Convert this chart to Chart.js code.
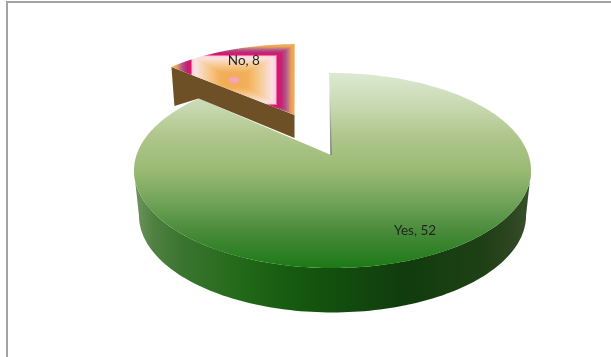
<!DOCTYPE html>
<html>
<head>
<meta charset="utf-8">
<style>
  html, body { margin: 0; padding: 0; background: #fff; overflow: hidden; }
  #frame { position: absolute; left: 6px; top: 1px; width: 605px; height: 356px; border-top: 2px solid #a3a3a3; border-left: 2px solid #a3a3a3; box-sizing: border-box; }
  #pie { position: absolute; left: 0; top: 0; }
</style>
<script src="https://cdn.jsdelivr.net/npm/chart.js@4"></script>
</head>
<body>
<div id="frame"></div>
<canvas id="pie" width="611" height="357"></canvas>
<script>
const categories = ['Yes', 'No'];
const answers = [52, 8];

// Rectangular path gradient for the pulled-out slice, rendered into a pattern.
const ringStops = [
  [0.00, [246, 160, 192]], [0.06, [246, 165, 185]], [0.09, [243, 172, 88]],
  [0.22, [243, 175, 90]], [0.40, [246, 200, 140]], [0.62, [251, 226, 226]],
  [0.68, [250, 205, 215]], [0.70, [222, 20, 115]], [0.76, [200, 30, 112]],
  [0.84, [172, 84, 140]], [0.94, [238, 165, 88]], [1.00, [240, 170, 80]]
];
function ringColor(t) {
  for (let i = 1; i < ringStops.length; i++) {
    if (t <= ringStops[i][0]) {
      const [t0, c0] = ringStops[i - 1], [t1, c1] = ringStops[i];
      const f = (t - t0) / (t1 - t0);
      return c0.map((c, k) => c + (c1[k] - c) * f);
    }
  }
  return ringStops[ringStops.length - 1][1];
}
function makeRingPattern(ctx) {
  const off = document.createElement('canvas');
  off.width = 611; off.height = 357;
  const oc = off.getContext('2d');
  const img = oc.createImageData(611, 357);
  for (let y = 0; y < 357; y++) {
    for (let x = 0; x < 611; x++) {
      const t = Math.min(1, Math.max(Math.abs(x - 233.5) / 61.5, Math.abs(y - 79.5) / 35.5));
      const c = ringColor(t), p = (y * 611 + x) * 4;
      img.data[p] = c[0]; img.data[p + 1] = c[1]; img.data[p + 2] = c[2]; img.data[p + 3] = 255;
    }
  }
  oc.putImageData(img, 0, 0);
  return ctx.createPattern(off, 'no-repeat');
}

// Perspective projection of a unit disc lying on a tilted plane.
function projector(x0, y0, a, b, k) {
  return (t, r = 1) => {
    const u = r * Math.sin(t), v = r * Math.cos(t), d = 1 + k * v;
    return { x: x0 + a * u / d, y: y0 - b * v / d };
  };
}
function arcPoints(project, t0, t1, steps = 120) {
  const pts = [];
  for (let i = 0; i <= steps; i++) pts.push(project(t0 + (t1 - t0) * i / steps));
  return pts;
}
function fillPoly(ctx, pts, fill) {
  ctx.beginPath();
  pts.forEach((p, i) => i ? ctx.lineTo(p.x, p.y) : ctx.moveTo(p.x, p.y));
  ctx.closePath();
  ctx.fillStyle = fill;
  ctx.fill();
}

const pie3d = {
  id: 'pie3d',
  beforeDatasetDraw(chart) {
    const ctx = chart.ctx;
    const [yesArc, noArc] = chart.getDatasetMeta(0).data;
    const R = yesArc.outerRadius, cx = yesArc.x, cy = yesArc.y;
    const tilt = 0.159, quarter = Math.PI / 2;
    const tOf = a => a + quarter;

    const top = projector(cx, cy - 15, R * 2.01, R * 0.975, tilt);
    const base = projector(cx, cy + 30, R * 1.96, R * 0.97, tilt);
    const apexYes = { x: cx - 1.5, y: cy - 15 };

    // Outer wall of the large slice, between the silhouette extremes.
    const edge = Math.acos(-tilt);
    const wall = arcPoints(top, edge, 2 * Math.PI - edge)
      .concat(arcPoints(base, 2 * Math.PI - edge, edge));
    const wallFill = ctx.createLinearGradient(134, 0, 531, 0);
    [[0, '#6f9660'], [0.05, '#4f8040'], [0.12, '#3a7530'], [0.26, '#246a1a'], [0.38, '#175c10'],
     [0.47, '#13520e'], [0.68, '#113c0d'], [0.88, '#1f4016'], [0.95, '#2d4520'], [1, '#38502c']]
      .forEach(([s, c]) => wallFill.addColorStop(s, c));
    fillPoly(ctx, wall, wallFill);

    // Top face of the large slice, with its cut edge along the notch.
    const yesStart = tOf(yesArc.startAngle), yesEnd = tOf(yesArc.endAngle);
    const yesRim = arcPoints(top, yesStart, yesEnd, 240);
    const notchCut = ctx.createLinearGradient(0, 90, 0, 155);
    notchCut.addColorStop(0, '#dfe6da');
    notchCut.addColorStop(1, '#5f6a5c');
    fillPoly(ctx, yesRim.concat([apexYes]), yesArc.options.backgroundColor);
    ctx.beginPath();
    ctx.moveTo(yesRim[0].x, yesRim[0].y);
    ctx.lineTo(apexYes.x, apexYes.y);
    ctx.lineWidth = 1.2;
    ctx.strokeStyle = notchCut;
    ctx.stroke();

    // Pulled-out slice: cut face first, then its top face.
    const ox = noArc.x - 38, oy = noArc.y - 55;
    const small = projector(ox + 3, oy, 178, 78, 0.1);
    const noStart = tOf(noArc.startAngle - 2 * Math.PI), noEnd = tOf(noArc.endAngle - 2 * Math.PI);
    const outerLeft = small(noStart);
    const yesTip = yesRim[yesRim.length - 1];
    fillPoly(ctx, [outerLeft, { x: ox, y: oy }, { x: ox, y: oy + 23 }, yesTip,
      { x: outerLeft.x + 3, y: outerLeft.y + 39 }], '#6e5026');
    fillPoly(ctx, arcPoints(small, noStart, noEnd, 60).concat([{ x: ox, y: oy }]), noArc.options.backgroundColor);

    // Labels as "category, value".
    ctx.font = '13.5px Lato, "Open Sans", sans-serif';
    ctx.textAlign = 'center';
    ctx.textBaseline = 'middle';
    ctx.fillStyle = '#1f241c';
    const yesMid = (yesStart + yesEnd) / 2, noMid = (noStart + noEnd) / 2;
    const yesAt = top(yesMid - 0.05, 0.8), noAt = small(noMid + 0.03, 0.82);
    ctx.fillText(categories[0] + ', ' + answers[0], yesAt.x, yesAt.y);
    ctx.fillText(categories[1] + ', ' + answers[1], noAt.x, noAt.y);
    return false;
  }
};

const el = document.getElementById('pie');
const c2d = el.getContext('2d');
const greenFace = c2d.createLinearGradient(0, 73, 0, 268);
[[0, '#dce9d2'], [0.18, '#c6d8ae'], [0.32, '#b0c68c'], [0.5, '#9aba74'],
 [0.66, '#71a359'], [0.82, '#478a39'], [1, '#1c7a14']]
  .forEach(([s, c]) => greenFace.addColorStop(s, c));

new Chart(el, {
  type: 'pie',
  plugins: [pie3d],
  data: {
    labels: categories,
    datasets: [{ data: answers, backgroundColor: [greenFace, makeRingPattern(c2d)], borderWidth: 0 }]
  },
  options: {
    responsive: false,
    animation: false,
    rotation: -1,
    layout: { padding: { left: 134, right: 80, top: 72.5, bottom: 89.5 } },
    plugins: { legend: { display: false }, tooltip: { enabled: false } }
  }
});
</script>
</body>
</html>
